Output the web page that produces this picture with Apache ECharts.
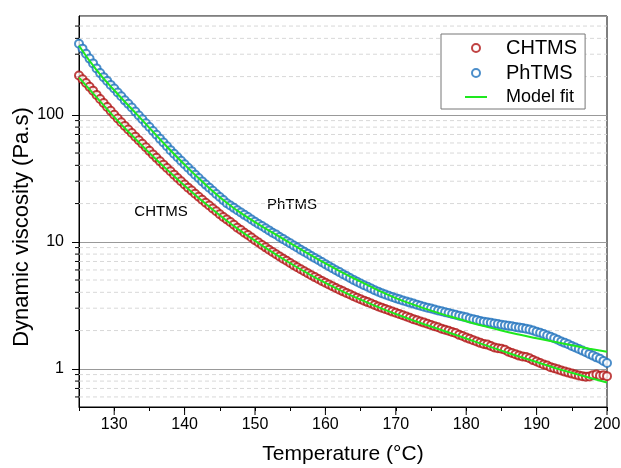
<!DOCTYPE html>
<html>
<head>
<meta charset="utf-8">
<script src="https://cdn.jsdelivr.net/npm/echarts@6/dist/echarts.min.js"></script>
<style>
  html, body { margin: 0; padding: 0; background: #fff; }
  #chart { width: 621px; height: 468px; }
</style>
</head>
<body>
<div id="chart"></div>
<script>
// temperature grid of the measured points (°C)
var tempC = [
  125, 125.5, 126, 126.5, 127, 127.5, 128, 128.5, 129, 129.5,
  130, 130.5, 131, 131.5, 132, 132.5, 133, 133.5, 134, 134.5,
  135, 135.5, 136, 136.5, 137, 137.5, 138, 138.5, 139, 139.5,
  140, 140.5, 141, 141.5, 142, 142.5, 143, 143.5, 144, 144.5,
  145, 145.5, 146, 146.5, 147, 147.5, 148, 148.5, 149, 149.5,
  150, 150.5, 151, 151.5, 152, 152.5, 153, 153.5, 154, 154.5,
  155, 155.5, 156, 156.5, 157, 157.5, 158, 158.5, 159, 159.5,
  160, 160.5, 161, 161.5, 162, 162.5, 163, 163.5, 164, 164.5,
  165, 165.5, 166, 166.5, 167, 167.5, 168, 168.5, 169, 169.5,
  170, 170.5, 171, 171.5, 172, 172.5, 173, 173.5, 174, 174.5,
  175, 175.5, 176, 176.5, 177, 177.5, 178, 178.5, 179, 179.5,
  180, 180.5, 181, 181.5, 182, 182.5, 183, 183.5, 184, 184.5,
  185, 185.5, 186, 186.5, 187, 187.5, 188, 188.5, 189, 189.5,
  190, 190.5, 191, 191.5, 192, 192.5, 193, 193.5, 194, 194.5,
  195, 195.5, 196, 196.5, 197, 197.5, 198, 198.5, 199, 199.5,
  200
];

// dynamic viscosity (Pa.s)
var chtms = [
  204, 190.5, 178, 166, 155, 143.5, 133.4, 123.9, 115.3, 107.4,
  100, 93.5, 87.5, 81.8, 76.7, 71.8, 67.3, 63.1, 59.2, 55.5,
  52.0, 48.8, 45.8, 43.1, 40.5, 38.1, 35.9, 33.8, 31.8, 30.0,
  28.3, 26.7, 25.3, 23.9, 22.6, 21.4, 20.3, 19.3, 18.3, 17.4,
  16.5, 15.7, 15.0, 14.3, 13.6, 12.9, 12.4, 11.8, 11.3, 10.8,
  10.3, 9.86, 9.44, 9.04, 8.67, 8.32, 7.98, 7.66, 7.36, 7.08,
  6.81, 6.55, 6.31, 6.08, 5.86, 5.65, 5.46, 5.27, 5.09, 4.92,
  4.76, 4.61, 4.47, 4.33, 4.20, 4.07, 3.95, 3.84, 3.73, 3.63,
  3.53, 3.44, 3.35, 3.27, 3.18, 3.10, 3.03, 2.96, 2.89, 2.82,
  2.76, 2.70, 2.64, 2.58, 2.52, 2.46, 2.41, 2.36, 2.31, 2.26,
  2.21, 2.16, 2.12, 2.07, 2.03, 1.99, 1.95, 1.91, 1.85, 1.81,
  1.76, 1.72, 1.68, 1.64, 1.60, 1.57, 1.55, 1.51, 1.47, 1.45,
  1.44, 1.41, 1.36, 1.33, 1.30, 1.27, 1.25, 1.24, 1.21, 1.17,
  1.14, 1.11, 1.08, 1.06, 1.03, 1.01, 0.99, 0.97, 0.95, 0.933,
  0.916, 0.902, 0.887, 0.875, 0.867, 0.871, 0.891, 0.902, 0.881, 0.891,
  0.875
];

var phtms = [
  363, 332, 303, 277, 254, 232, 213, 198, 185, 172,
  161, 150, 140, 130, 122, 114, 106, 98.9, 92.3, 85.9,
  80.2, 74.6, 69.7, 64.9, 60.5, 56.5, 52.7, 49.4, 46.3, 43.5,
  40.8, 38.3, 36.0, 33.8, 31.8, 29.9, 28.2, 26.7, 25.2, 23.8,
  22.5, 21.3, 20.1, 19.3, 18.5, 17.7, 17.0, 16.3, 15.7, 15.0,
  14.4, 13.8, 13.3, 12.8, 12.3, 11.8, 11.4, 10.9, 10.5, 10.1,
  9.72, 9.35, 9.02, 8.67, 8.36, 8.04, 7.74, 7.45, 7.18, 6.92,
  6.67, 6.43, 6.19, 5.97, 5.77, 5.56, 5.37, 5.19, 5.01, 4.85,
  4.70, 4.55, 4.42, 4.29, 4.16, 4.05, 3.94, 3.85, 3.76, 3.68,
  3.60, 3.52, 3.45, 3.39, 3.32, 3.26, 3.20, 3.14, 3.08, 3.03,
  2.98, 2.93, 2.88, 2.84, 2.79, 2.75, 2.70, 2.66, 2.62, 2.58,
  2.54, 2.49, 2.45, 2.42, 2.38, 2.35, 2.32, 2.30, 2.27, 2.25,
  2.22, 2.20, 2.18, 2.16, 2.13, 2.11, 2.09, 2.07, 2.04, 2.00,
  1.96, 1.92, 1.88, 1.83, 1.79, 1.74, 1.69, 1.64, 1.60, 1.56,
  1.51, 1.47, 1.43, 1.39, 1.35, 1.31, 1.27, 1.23, 1.20, 1.15,
  1.11
];

// model fit curves
var fitT = [125, 127.5, 130, 132.5, 135, 137.5, 140, 142.5, 145, 147.5,
  150, 152.5, 155, 157.5, 160, 162.5, 165, 167.5, 170, 172.5,
  175, 177.5, 180, 182.5, 185, 187.5, 190, 192.5, 195, 197.5, 200];
var chtmsFit = [196, 137, 96, 69, 50, 37, 27.6, 21, 16.2, 12.7,
  10.2, 8.25, 6.78, 5.63, 4.74, 4.05, 3.5, 3.06, 2.7, 2.4,
  2.15, 1.93, 1.73, 1.55, 1.39, 1.25, 1.13, 1.02, 0.93, 0.85, 0.78];
var phtmsFit = [350, 225, 156, 111, 79, 56, 40.5, 29.8, 22.4, 17.6,
  14.3, 11.8, 9.75, 8.1, 6.75, 5.7, 4.85, 4.15, 3.6, 3.2,
  2.87, 2.6, 2.37, 2.17, 2.0, 1.86, 1.74, 1.63, 1.53, 1.44, 1.36];

// axis ticks
var xMajorTicks = [130, 140, 150, 160, 170, 180, 190, 200];
var yMinorTicks = [0.6, 0.7, 0.8, 0.9, 2, 3, 4, 5, 6, 7, 8, 9,
  20, 30, 40, 50, 60, 70, 80, 90, 200, 300, 400, 500];

var xMin = 125, xMax = 200, yMin = 0.5, yMax = 600;

function pairs(xs, ys) {
  return xs.map(function (x, i) { return [x, ys[i]]; });
}

var font = 'Liberation Sans, Arial, sans-serif';
var myChart = echarts.init(document.getElementById('chart'), null, { renderer: 'canvas' });

var option = {
  animation: false,
  backgroundColor: '#fff',
  textStyle: { fontFamily: font, color: '#000' },
  grid: {
    left: 79, right: 14, top: 16, bottom: 61,
    show: true, borderColor: '#000', borderWidth: 1,
    outerBoundsMode: 'none'
  },
  legend: {
    orient: 'vertical',
    left: 441, top: 34,
    padding: [4, 8, 3, 24],
    itemGap: 5,
    itemWidth: 22,
    itemHeight: 8,
    backgroundColor: '#fff',
    borderColor: '#777',
    borderWidth: 1,
    data: [
      { name: 'CHTMS', icon: 'emptyCircle' },
      { name: 'PhTMS', icon: 'emptyCircle' },
      // plain green dash, no marker
      { name: 'Model fit', icon: 'path://M0,0 H22 V2 H0 Z' }
    ],
    formatter: function (name) {
      return name === 'Model fit' ? '{s|' + name + '}' : '{b|' + name + '}';
    },
    textStyle: {
      rich: {
        b: { fontSize: 20, fontFamily: font, color: '#000', padding: [0, 0, 0, 14] },
        s: { fontSize: 18, fontFamily: font, color: '#000', padding: [0, 0, 0, 14] }
      }
    }
  },
  xAxis: {
    type: 'value',
    min: xMin, max: xMax, interval: 5,
    name: 'Temperature (°C)',
    nameLocation: 'middle',
    nameGap: 37,
    nameTextStyle: { fontSize: 21, fontFamily: font, color: '#000' },
    axisLine: { onZero: false, lineStyle: { color: '#000', width: 1 } },
    axisTick: { length: 4, lineStyle: { color: '#000' } },
    axisLabel: {
      fontSize: 16, margin: 10, color: '#000',
      formatter: function (v) { return v % 10 === 0 ? String(v) : ''; }
    },
    splitLine: { show: false }
  },
  yAxis: {
    type: 'log',
    logBase: 10,
    min: yMin, max: yMax,
    axisLine: { show: true, lineStyle: { color: '#000', width: 1 } },
    axisTick: { length: 7, lineStyle: { color: '#000' } },
    axisLabel: { fontSize: 16, margin: 15, color: '#000', showMinLabel: false, showMaxLabel: false },
    splitLine: { show: true, lineStyle: { color: '#999', width: 1 } }
  },
  graphic: [
    { type: 'text', x: 22, y: 227, rotation: Math.PI / 2,
      style: { text: 'Dynamic viscosity (Pa.s)', font: '22px ' + font, fill: '#000', textAlign: 'center', textVerticalAlign: 'middle' } },
    { type: 'text', x: 161, y: 212, style: { text: 'CHTMS', font: '15px ' + font, fill: '#000', textAlign: 'center', textVerticalAlign: 'middle' } },
    { type: 'text', x: 292, y: 205, style: { text: 'PhTMS', font: '15px ' + font, fill: '#000', textAlign: 'center', textVerticalAlign: 'middle' } }
  ],
  series: [
    {
      // minor grid lines and minor ticks on the log axis
      type: 'custom',
      silent: true,
      z: 1,
      data: yMinorTicks.map(function (v) { return [xMin, v]; }),
      renderItem: function (params, api) {
        var a = api.coord([xMin, api.value(1)]);
        var b = api.coord([xMax, api.value(1)]);
        return {
          type: 'group',
          children: [
            { type: 'line', shape: { x1: a[0], y1: a[1], x2: b[0], y2: b[1] },
              style: { stroke: '#d8d8d8', lineWidth: 1, lineDash: [4, 3] } },
            { type: 'line', shape: { x1: a[0] - 4, y1: a[1], x2: a[0], y2: a[1] },
              style: { stroke: '#000', lineWidth: 1 } }
          ]
        };
      }
    },
    {
      // longer major ticks on the temperature axis
      type: 'custom',
      silent: true,
      z: 1,
      data: xMajorTicks.map(function (v) { return [v, yMin]; }),
      renderItem: function (params, api) {
        var a = api.coord([api.value(0), yMin]);
        return { type: 'line', shape: { x1: a[0], y1: a[1], x2: a[0], y2: a[1] + 8 },
          style: { stroke: '#000', lineWidth: 1 } };
      }
    },
    {
      name: 'CHTMS',
      type: 'scatter',
      symbol: 'emptyCircle',
      symbolSize: 8,
      itemStyle: { color: '#b01414', borderColor: '#b01414', borderWidth: 1.3 },
      emphasis: { disabled: true },
      data: pairs(tempC, chtms)
    },
    {
      name: 'PhTMS',
      type: 'scatter',
      symbol: 'emptyCircle',
      symbolSize: 8,
      itemStyle: { color: '#1f72bd', borderColor: '#1f72bd', borderWidth: 1.3 },
      emphasis: { disabled: true },
      data: pairs(tempC, phtms)
    },
    {
      name: 'Model fit',
      type: 'line',
      smooth: true,
      symbol: 'none',
      lineStyle: { color: '#1ee81e', width: 2 },
      itemStyle: { color: '#1ee81e' },
      z: 5,
      data: pairs(fitT, chtmsFit)
    },
    {
      name: 'Model fit',
      type: 'line',
      smooth: true,
      symbol: 'none',
      lineStyle: { color: '#1ee81e', width: 2 },
      itemStyle: { color: '#1ee81e' },
      z: 5,
      data: pairs(fitT, phtmsFit)
    }
  ]
};

myChart.setOption(option);
</script>
</body>
</html>
